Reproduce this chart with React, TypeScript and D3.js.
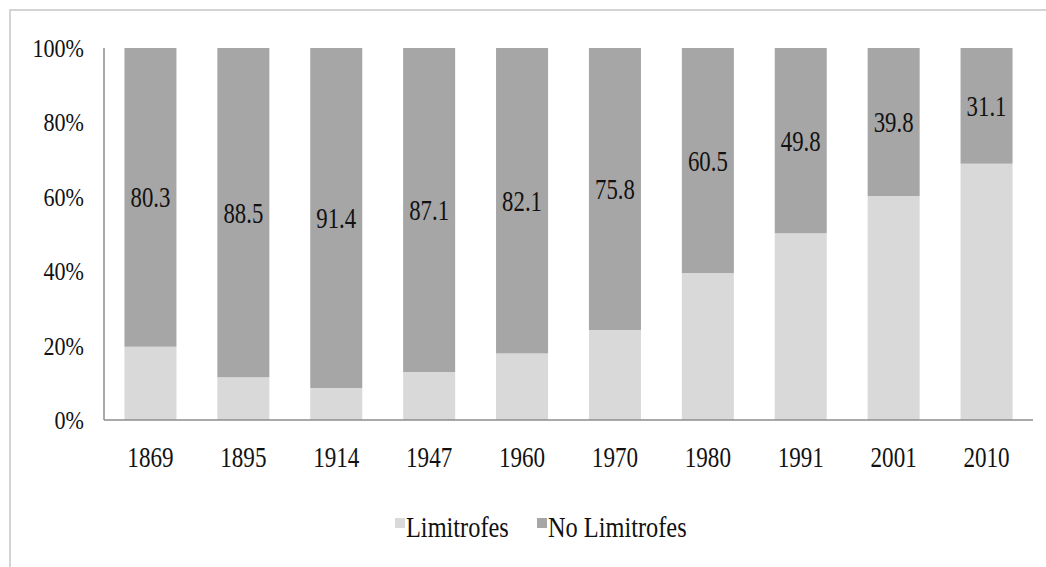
import React from "react";
import * as d3 from "d3";

const years = ["1869", "1895", "1914", "1947", "1960", "1970", "1980", "1991", "2001", "2010"];
const noLimitrofes = [80.3, 88.5, 91.4, 87.1, 82.1, 75.8, 60.5, 49.8, 39.8, 31.1];
const limitrofes = [19.7, 11.5, 8.6, 12.9, 17.9, 24.2, 39.5, 50.2, 60.2, 68.9];
const yTicks = [0, 20, 40, 60, 80, 100];
const seriesNames = ["Limitrofes", "No Limitrofes"];
const colors = ["#d9d9d9", "#a6a6a6"];

export default function App() {
  const W = 1046, H = 567;
  const left = 104, right = 1033, top = 48, bottom = 420;
  const x = d3.scaleBand().domain(years).range([left, right]).paddingInner(0.44).paddingOuter(0.22);
  const y = d3.scaleLinear().domain([0, 100]).range([bottom, top]);
  const serif = "'Liberation Serif', 'Times New Roman', serif";

  return (
    <svg width={W} height={H} style={{ position: "absolute", left: 0, top: 0, background: "#fff" }}>
      <rect x={10} y={10} width={1050} height={570} fill="#fff" stroke="#d4d4d4" strokeWidth={2} />
      {years.map((yr, i) => {
        const bx = x(yr)!;
        const bw = x.bandwidth();
        const l = limitrofes[i];
        const n = noLimitrofes[i];
        return (
          <g key={yr}>
            <rect x={bx} y={y(l)} width={bw} height={y(0) - y(l)} fill={colors[0]} />
            <rect x={bx} y={y(100)} width={bw} height={y(l) - y(100)} fill={colors[1]} />
            <text
              transform={`translate(${bx + bw / 2},${y(l + n / 2) + 10}) scale(0.76,1)`}
              textAnchor="middle"
              fontFamily={serif}
              fontSize={30}
              fill="#111"
            >
              {n.toFixed(1)}
            </text>
            <text
              transform={`translate(${bx + bw / 2},${467}) scale(0.77,1)`}
              textAnchor="middle"
              fontFamily={serif}
              fontSize={30}
              fill="#111"
            >
              {yr}
            </text>
          </g>
        );
      })}
      <line x1={left} x2={left} y1={top} y2={bottom} stroke="#8c8c8c" strokeWidth={1.5} />
      <line x1={left} x2={right} y1={bottom} y2={bottom} stroke="#8c8c8c" strokeWidth={1.5} />
      {yTicks.map((t) => (
        <text
          key={t}
          transform={`translate(84,${y(t) + 9}) scale(0.85,1)`}
          textAnchor="end"
          fontFamily={serif}
          fontSize={26}
          fill="#111"
        >
          {t}%
        </text>
      ))}
      {seriesNames.map((s, i) => {
        const lx = i === 0 ? 395 : 537;
        return (
          <g key={s}>
            <rect x={lx} y={518} width={10} height={10} fill={colors[i]} />
            <text
              transform={`translate(${lx + 11},537) scale(0.84,1)`}
              fontFamily={serif}
              fontSize={29}
              fill="#111"
            >
              {s}
            </text>
          </g>
        );
      })}
    </svg>
  );
}
